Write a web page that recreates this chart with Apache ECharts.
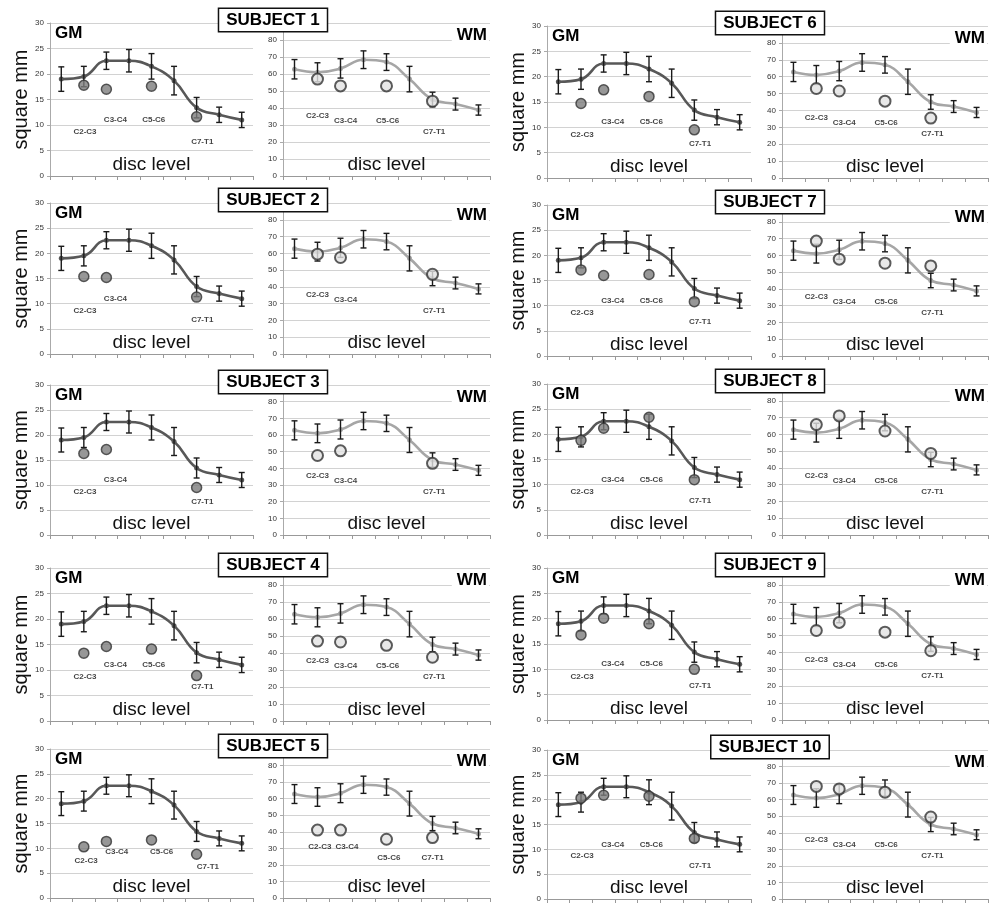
<!DOCTYPE html>
<html>
<head>
<meta charset="utf-8">
<title>GM / WM cross-sectional area by disc level</title>
<script src="https://cdn.jsdelivr.net/npm/echarts@6/dist/echarts.min.js"></script>
<style>
  html, body { margin: 0; padding: 0; background: #fff; }
  #chart { width: 995px; height: 903px; }
</style>
</head>
<body>
<div id="chart"></div>
<script>
// disc levels along the x axis (9 points of the normative curve)
const discLevels = ['C1-C2', 'C2-C3', 'C3-C4', 'C4-C5', 'C5-C6', 'C6-C7', 'C7-T1', 'T1-T2', 'T2-T3'];

// normative mean and SD, grey matter and white matter (square mm)
const gmMean = [19.0, 19.5, 22.6, 22.6, 21.5, 18.7, 13.4, 12.0, 11.0];
const gmSD = [2.4, 2.0, 1.7, 2.2, 2.5, 2.8, 2.0, 1.5, 1.5];
const wmMean = [62.8, 61.0, 63.3, 68.4, 67.0, 57.0, 45.0, 42.3, 38.8];
const wmSD = [5.7, 5.6, 5.7, 5.2, 4.9, 7.5, 4.3, 3.5, 3.0];

// measured levels for each subject
const subjectLevels = ['C2-C3', 'C3-C4', 'C5-C6', 'C7-T1'];
const subjectNames = ['SUBJECT 1', 'SUBJECT 2', 'SUBJECT 3', 'SUBJECT 4', 'SUBJECT 5',
  'SUBJECT 6', 'SUBJECT 7', 'SUBJECT 8', 'SUBJECT 9', 'SUBJECT 10'];
const gmSubject = [
  [17.8, 17.0, 17.6, 11.6],
  [15.4, 15.2, null, 11.3],
  [16.3, 17.1, null, 9.5],
  [13.3, 14.6, 14.1, 8.9],
  [10.3, 11.4, 11.7, 8.8],
  [14.7, 17.4, 16.1, 9.5],
  [17.1, 16.0, 16.2, 10.8],
  [18.8, 21.2, 23.4, 11.0],
  [16.8, 20.1, 19.0, 10.0],
  [20.3, 20.9, 20.7, 12.2]
];
const wmSubject = [
  [57.0, 53.0, 53.0, 44.0],
  [59.5, 57.5, null, 47.5],
  [47.7, 50.5, null, 43.0],
  [47.0, 46.5, 44.5, 37.5],
  [41.0, 41.0, 35.5, 36.5],
  [53.0, 51.5, 45.5, 35.5],
  [68.5, 57.7, 55.3, 53.7],
  [65.8, 71.0, 62.0, 48.6],
  [53.0, 57.8, 52.0, 41.0],
  [68.0, 66.5, 64.5, 49.5]
];

// ---- layout (pixels) ----
const cols = [
  { gmLeft: 50, gmWidth: 203, wmLeft: 283, wmWidth: 207, boxX: 273 },
  { gmLeft: 547, gmWidth: 204, wmLeft: 782, wmWidth: 206, boxX: 770 }
];
const rowTop = [[23, 203, 385, 568, 749], [26, 205, 384, 568, 750]];
const rowBottom = [[176, 354, 535, 721, 898], [178, 356, 535, 720, 902]];

// where the level captions sit inside a panel (axis units)
const gmLabelPos = [[1.55, 8.6], [2.9, 11.0], [4.6, 11.0], [6.75, 6.7]];
const wmLabelPos = [[1.5, 35.5], [2.72, 32.5], [4.55, 32.5], [6.57, 26.0]];
const gmLabelPosS5 = [[1.6, 7.4], [2.96, 9.3], [4.95, 9.3], [7.0, 6.2]];
const wmLabelPosS5 = [[1.6, 31.0], [2.78, 31.0], [4.6, 24.0], [6.5, 24.0]];

const FONT = '"Liberation Sans", Arial, Helvetica, sans-serif';
const GM_COLOR = '#585858';
const WM_COLOR = '#a6a6a6';

function errorBarItem(params, api) {
  const x = api.value(0);
  const lo = api.coord([x, api.value(1)]);
  const hi = api.coord([x, api.value(2)]);
  const cap = 3;
  const style = { stroke: '#1a1a1a', lineWidth: 1.4 };
  return {
    type: 'group',
    children: [
      { type: 'line', shape: { x1: lo[0], y1: lo[1], x2: hi[0], y2: hi[1] }, style: style },
      { type: 'line', shape: { x1: lo[0] - cap, y1: lo[1], x2: lo[0] + cap, y2: lo[1] }, style: style },
      { type: 'line', shape: { x1: hi[0] - cap, y1: hi[1], x2: hi[0] + cap, y2: hi[1] }, style: style }
    ]
  };
}

let grids = [], xAxes = [], yAxes = [], series = [], graphics = [];

function addPanel(kind, s) {
  const col = s < 5 ? 0 : 1;
  const row = s % 5;
  const c = cols[col];
  const isGM = kind === 'GM';
  const left = isGM ? c.gmLeft : c.wmLeft;
  const width = isGM ? c.gmWidth : c.wmWidth;
  const top = rowTop[col][row];
  const height = rowBottom[col][row] - top;
  const idx = grids.length;

  grids.push({ left: left, top: top, width: width, height: height });

  xAxes.push({
    gridIndex: idx,
    type: 'value',
    min: 0, max: 9, interval: 1,
    axisLabel: { show: false },
    axisTick: { show: true, length: 4, lineStyle: { color: '#999' } },
    axisLine: { lineStyle: { color: '#999' } },
    splitLine: { show: false },
    name: 'disc level',
    nameLocation: 'middle',
    nameGap: -11,
    nameTextStyle: { fontFamily: FONT, fontSize: 19, color: '#111', verticalAlign: 'middle' }
  });

  yAxes.push({
    gridIndex: idx,
    type: 'value',
    min: 0,
    max: isGM ? 30 : 90,
    interval: isGM ? 5 : 10,
    axisLabel: {
      fontFamily: FONT, fontSize: 8, color: '#333', margin: 6,
      showMaxLabel: isGM,
      formatter: function (v) { return isGM || v <= 80 ? String(v) : ''; }
    },
    axisTick: { show: true, length: 3, lineStyle: { color: '#aaa' } },
    axisLine: { show: true, lineStyle: { color: '#aaa' } },
    splitLine: { lineStyle: { color: '#d2d2d2', width: 1 } },
    name: isGM ? 'square mm' : '',
    nameLocation: 'middle',
    nameGap: 19,
    nameTextStyle: { fontFamily: FONT, fontSize: 20, color: '#111' }
  });

  const mean = isGM ? gmMean : wmMean;
  const sd = isGM ? gmSD : wmSD;
  const color = isGM ? GM_COLOR : WM_COLOR;

  series.push({
    type: 'line',
    xAxisIndex: idx, yAxisIndex: idx,
    data: mean.map(function (v, i) { return [i + 0.5, v, discLevels[i]]; }),
    smooth: 0.45,
    symbol: 'circle', symbolSize: 5,
    lineStyle: { color: color, width: 2.6 },
    itemStyle: { color: color },
    z: 2
  });

  series.push({
    type: 'custom',
    xAxisIndex: idx, yAxisIndex: idx,
    renderItem: errorBarItem,
    encode: { x: 0, y: [1, 2] },
    data: mean.map(function (v, i) { return [i + 0.5, v - sd[i], v + sd[i]]; }),
    z: 3
  });

  const subj = isGM ? gmSubject[s] : wmSubject[s];
  const dots = [];
  const captions = [];
  const pos = s === 4 ? (isGM ? gmLabelPosS5 : wmLabelPosS5) : (isGM ? gmLabelPos : wmLabelPos);
  subjectLevels.forEach(function (lv, k) {
    if (subj[k] == null) return;
    dots.push([discLevels.indexOf(lv) + 0.5, subj[k], lv]);
    captions.push([pos[k][0], pos[k][1], lv]);
  });

  series.push({
    type: 'scatter',
    xAxisIndex: idx, yAxisIndex: idx,
    data: dots,
    symbol: 'circle',
    symbolSize: isGM ? 10 : 11,
    itemStyle: isGM
      ? { color: '#7d7d7d', borderColor: '#333', borderWidth: 1.5 }
      : { color: '#e2e2e2', borderColor: '#333', borderWidth: 2 },
    z: 5
  });

  series.push({
    type: 'scatter',
    xAxisIndex: idx, yAxisIndex: idx,
    data: captions,
    symbolSize: 0,
    label: {
      show: true, position: 'inside',
      formatter: function (p) { return p.data[2]; },
      fontFamily: FONT, fontSize: 8, fontWeight: 'bold', color: '#111'
    },
    silent: true,
    z: 4
  });

  if (isGM) {
    graphics.push({
      type: 'text', left: left + 5, top: top + 2,
      style: { text: 'GM', font: 'bold 17px ' + FONT, fill: '#000' }, z: 10
    });
  } else {
    graphics.push({
      type: 'text', x: left + width - 1, y: top + 3,
      style: {
        text: 'WM', font: 'bold 17px ' + FONT, fill: '#000',
        align: 'right', verticalAlign: 'top',
        backgroundColor: '#fff', padding: [1, 2, 1, 5]
      }, z: 10
    });
  }
}

for (let s = 0; s < subjectNames.length; s++) {
  addPanel('GM', s);
  addPanel('WM', s);
  const col = s < 5 ? 0 : 1;
  const row = s % 5;
  graphics.push({
    type: 'text',
    x: cols[col].boxX, y: rowTop[col][row] - 3,
    style: {
      text: subjectNames[s], font: 'bold 17px ' + FONT, fill: '#000',
      align: 'center', verticalAlign: 'middle',
      backgroundColor: '#fff', borderColor: '#111', borderWidth: 1.5,
      padding: [3, 7, 2, 7]
    },
    z: 20
  });
}

const myChart = echarts.init(document.getElementById('chart'));
myChart.setOption({
  animation: false,
  backgroundColor: '#fff',
  grid: grids,
  xAxis: xAxes,
  yAxis: yAxes,
  series: series,
  graphic: graphics
});
</script>
</body>
</html>
